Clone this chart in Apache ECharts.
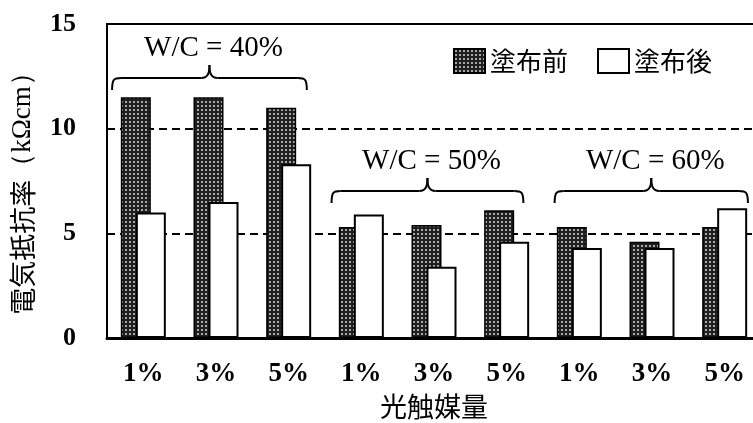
<!DOCTYPE html>
<html>
<head>
<meta charset="utf-8">
<script src="https://cdn.jsdelivr.net/npm/echarts@6/dist/echarts.min.js"></script>
<style>
  html, body { margin: 0; padding: 0; background: #fff; }
  #chart { width: 753px; height: 423px; }
</style>
</head>
<body>
<div id="chart"></div>
<script>
// Photocatalyst dosage per W/C group
const categories = ['1%', '3%', '5%', '1%', '3%', '5%', '1%', '3%', '5%'];
// Electrical resistivity (kΩcm) before / after coating
const beforeCoating = [11.5, 11.5, 11.0, 5.3, 5.4, 6.1, 5.3, 4.6, 5.3];
const afterCoating = [6.0, 6.5, 8.3, 5.9, 3.4, 4.6, 4.3, 4.3, 6.2];
const yTicks = [0, 5, 10, 15];
// Group brackets: label, first/last category extent (in category units), tip height (kΩcm)
const groupLabels = ['W/C = 40%', 'W/C = 50%', 'W/C = 60%'];
const groupLeft = [-0.43, 2.59, 5.66];
const groupRight = [2.25, 5.23, 8.32];
const groupTip = [11.85, 6.45, 6.45];

const SERIF = '"Liberation Serif", "Times New Roman", serif';
const CJK = '"Noto Sans CJK JP", "Noto Sans", sans-serif';

// Dotted dark fill for the "before" bars
function dotPattern() {
  const c = document.createElement('canvas');
  c.width = 4; c.height = 4;
  const g = c.getContext('2d');
  g.fillStyle = '#1f1f1f';
  g.fillRect(0, 0, 4, 4);
  g.fillStyle = '#a8a8a8';
  g.fillRect(1, 1, 2, 2);
  return c;
}
const darkFill = { image: dotPattern(), repeat: 'repeat' };

const chart = echarts.init(document.getElementById('chart'), null, { renderer: 'canvas' });

function renderBrace(params, api) {
  const i = params.dataIndex;
  const c0 = api.coord([0, groupTip[i]]);
  const band = api.size([1, 0])[0];
  const xL = c0[0] + groupLeft[i] * band;
  const xR = c0[0] + groupRight[i] * band;
  const xC = (xL + xR) / 2;
  const yTip = c0[1];
  const yLine = yTip - 12;
  const yPt = yTip - 25;
  const r = 9;
  const stroke = { stroke: '#000', lineWidth: 2, fill: null };
  return {
    type: 'group',
    children: [
      { type: 'bezierCurve', shape: { x1: xL, y1: yTip, cpx1: xL, cpy1: yLine + 1, cpx2: xL + 2, cpy2: yLine, x2: xL + r, y2: yLine }, style: stroke },
      { type: 'line', shape: { x1: xL + r, y1: yLine, x2: xC - 8, y2: yLine }, style: stroke },
      { type: 'bezierCurve', shape: { x1: xC - 8, y1: yLine, cpx1: xC - 2, cpy1: yLine, cpx2: xC, cpy2: yLine - 4, x2: xC, y2: yPt }, style: stroke },
      { type: 'bezierCurve', shape: { x1: xC, y1: yPt, cpx1: xC, cpy1: yLine - 4, cpx2: xC + 2, cpy2: yLine, x2: xC + 8, y2: yLine }, style: stroke },
      { type: 'line', shape: { x1: xC + 8, y1: yLine, x2: xR - r, y2: yLine }, style: stroke },
      { type: 'bezierCurve', shape: { x1: xR - r, y1: yLine, cpx1: xR - 2, cpy1: yLine, cpx2: xR, cpy2: yLine + 1, x2: xR, y2: yTip }, style: stroke },
      { type: 'text', style: { text: groupLabels[i], x: xC + 4, y: yPt - 17, textAlign: 'center', textVerticalAlign: 'middle', font: '29px ' + SERIF, fill: '#000' } }
    ]
  };
}

chart.setOption({
  animation: false,
  backgroundColor: '#fff',
  grid: { left: 107, top: 24, width: 654, bottom: 85, containLabel: false, outerBoundsMode: 'none' },
  legend: {
    left: 453, top: 48, padding: 0,
    itemWidth: 31, itemHeight: 24, itemGap: 29,
    icon: 'rect',
    textStyle: { fontFamily: CJK, fontSize: 26, color: '#000' },
    data: ['塗布前', '塗布後']
  },
  xAxis: [{
    type: 'category',
    data: categories,
    axisLine: { lineStyle: { color: '#000', width: 3 } },
    axisTick: { show: false },
    axisLabel: { fontFamily: SERIF, fontWeight: 'bold', fontSize: 27, color: '#000', margin: 23, interval: 0 },
    name: '光触媒量',
    nameLocation: 'middle',
    nameGap: 54,
    nameTextStyle: { fontFamily: CJK, fontSize: 27, color: '#000' }
  }, {
    type: 'category',
    position: 'top',
    data: categories,
    axisLine: { lineStyle: { color: '#000', width: 2 } },
    axisTick: { show: false },
    axisLabel: { show: false }
  }],
  yAxis: {
    type: 'value',
    min: 0, max: 15, interval: 5,
    axisLine: { show: true, lineStyle: { color: '#000', width: 2 } },
    axisTick: { show: true, inside: true, length: 5, lineStyle: { color: '#000', width: 1.5 } },
    axisLabel: {
      fontFamily: SERIF, fontWeight: 'bold', fontSize: 26, color: '#000', margin: 31,
      formatter: v => (yTicks.indexOf(v) >= 0 ? String(v) : '')
    },
    splitLine: { show: true, lineStyle: { color: '#000', width: 2, type: [8, 5] } },
    name: '{a|電気抵抗率}{b|（kΩcm）}',
    nameLocation: 'middle',
    nameGap: 71,
    nameRotate: 90,
    nameTextStyle: {
      padding: [0, 12, 0, 0],
      rich: {
        a: { fontFamily: CJK, fontSize: 27, color: '#000' },
        b: { fontFamily: SERIF, fontSize: 27, color: '#000' }
      }
    }
  },
  series: [{
    name: '塗布前',
    type: 'bar',
    data: beforeCoating,
    barWidth: 30,
    barGap: '-50%',
    itemStyle: { color: darkFill, borderColor: '#000', borderWidth: 1.5 }
  }, {
    name: '塗布後',
    type: 'bar',
    data: afterCoating,
    barWidth: 30,
    barGap: '-50%',
    itemStyle: { color: '#fff', borderColor: '#000', borderWidth: 2 }
  }, {
    type: 'custom',
    renderItem: renderBrace,
    data: groupTip.map((v, i) => [i, v]),
    encode: { x: 0, y: 1 },
    silent: true,
    z: 5
  }]
});
</script>
</body>
</html>
